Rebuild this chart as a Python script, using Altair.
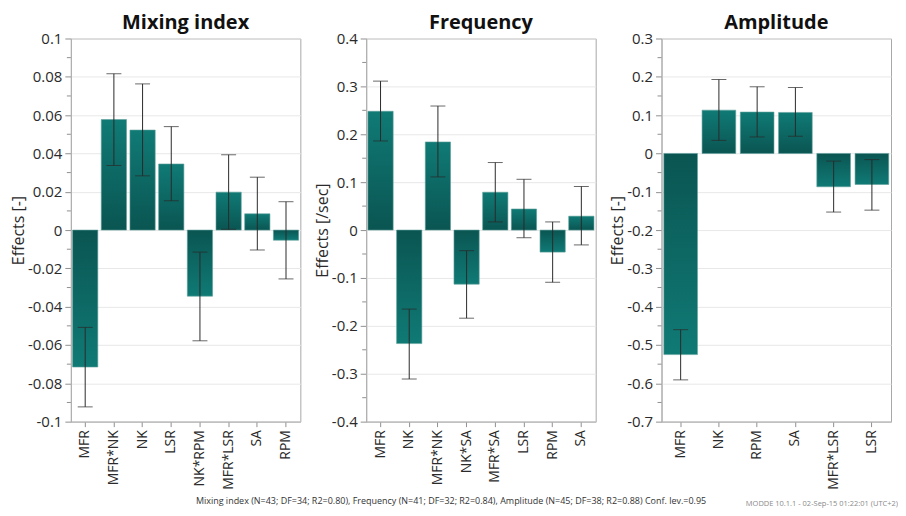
import altair as alt
import pandas as pd

FONT = "Open Sans"
LIGHT = "#107a75"
DARK = "#0a5552"
INK = "#2a2a2a"

# ---------------- data ----------------
mix_terms = ["MFR", "MFR*NK", "NK", "LSR", "NK*RPM", "MFR*LSR", "SA", "RPM"]
mix_eff = [-0.0715, 0.0577, 0.0522, 0.0345, -0.0345, 0.0198, 0.0085, -0.0053]
mix_lo = [-0.0923, 0.0337, 0.0283, 0.0153, -0.0578, 0.0004, -0.0104, -0.0255]
mix_hi = [-0.0508, 0.0816, 0.0763, 0.0540, -0.0115, 0.0393, 0.0276, 0.0148]
mix_major = [-0.1, -0.08, -0.06, -0.04, -0.02, 0, 0.02, 0.04, 0.06, 0.08, 0.1]
mix_minor = [-0.09, -0.07, -0.05, -0.03, -0.01, 0.01, 0.03, 0.05, 0.07, 0.09]

freq_terms = ["MFR", "NK", "MFR*NK", "NK*SA", "MFR*SA", "LSR", "RPM", "SA"]
freq_eff = [0.248, -0.237, 0.184, -0.113, 0.079, 0.044, -0.046, 0.029]
freq_lo = [0.186, -0.311, 0.111, -0.184, 0.017, -0.016, -0.109, -0.031]
freq_hi = [0.311, -0.165, 0.259, -0.043, 0.141, 0.106, 0.017, 0.091]
freq_major = [-0.4, -0.3, -0.2, -0.1, 0, 0.1, 0.2, 0.3, 0.4]
freq_minor = [-0.35, -0.25, -0.15, -0.05, 0.05, 0.15, 0.25, 0.35]

amp_terms = ["MFR", "NK", "RPM", "SA", "MFR*LSR", "LSR"]
amp_eff = [-0.525, 0.113, 0.108, 0.107, -0.087, -0.081]
amp_lo = [-0.591, 0.034, 0.043, 0.045, -0.153, -0.148]
amp_hi = [-0.460, 0.193, 0.174, 0.172, -0.020, -0.016]
amp_major = [-0.7, -0.6, -0.5, -0.4, -0.3, -0.2, -0.1, 0, 0.1, 0.2, 0.3]
amp_minor = [-0.65, -0.55, -0.45, -0.35, -0.25, -0.15, -0.05, 0.05, 0.15, 0.25]

footnote = ("Mixing index (N=43; DF=34; R2=0.80),  Frequency (N=41; DF=32; R2=0.84),  "
            "Amplitude (N=45; DF=38; R2=0.88)  Conf. lev.=0.95")
stamp = "MODDE 10.1.1 - 02-Sep-15 01:22:01 (UTC+2)"

W, H = 230, 384
FRAME = alt.ViewBackground(stroke="#a8a8a8", strokeWidth=1)


def grad(top, bottom):
    return alt.Gradient(
        gradient="linear",
        stops=[alt.GradientStop(color=top, offset=0), alt.GradientStop(color=bottom, offset=1)],
        x1=0, x2=0, y1=0, y2=1,
    )


LABEL_EXPR = "datum.value < 0 ? '-' + format(-datum.value, '~g') : format(datum.value, '~g')"


def panel(title, terms, eff, lo, hi, dom, major, minor, ytitle):
    df = pd.DataFrame({"term": terms, "eff": eff, "lo": lo, "hi": hi})
    xenc = alt.X(
        "term:N", sort=terms, title=None,
        scale=alt.Scale(paddingInner=0.12, paddingOuter=0.06),
        axis=alt.Axis(labelAngle=-90, labelFontSize=14, tickSize=5, labelPadding=3,
                      grid=False, labelColor=INK),
    )
    yscale = alt.Scale(domain=dom, nice=False, zero=False)
    yaxis = alt.Axis(values=major, labelExpr=LABEL_EXPR, title=ytitle, grid=True,
                     tickSize=6, labelPadding=3, titlePadding=1)

    def Y(field):
        return alt.Y(field, scale=yscale, axis=yaxis, title=ytitle)

    base = alt.Chart(df)
    pos = base.transform_filter("datum.eff >= 0").mark_bar(
        color=grad(LIGHT, DARK), stroke="#5e9f9b", strokeWidth=0.6
    ).encode(x=xenc, y=Y("eff:Q"), y2=alt.datum(0))
    neg = base.transform_filter("datum.eff < 0").mark_bar(
        color=grad(DARK, LIGHT), stroke="#5e9f9b", strokeWidth=0.6
    ).encode(x=xenc, y=Y("eff:Q"), y2=alt.datum(0))
    err = base.mark_rule(color=INK, strokeWidth=1).encode(x=xenc, y=Y("lo:Q"), y2="hi:Q")
    cap_lo = base.mark_tick(color=INK, thickness=1, size=15).encode(x=xenc, y=Y("lo:Q"))
    cap_hi = base.mark_tick(color=INK, thickness=1, size=15).encode(x=xenc, y=Y("hi:Q"))
    mdf = pd.DataFrame({"m": minor})
    minor_ticks = alt.Chart(mdf).mark_rule(color="#909090", strokeWidth=1).encode(
        y=Y("m:Q"), x=alt.value(-4), x2=alt.value(0)
    )
    return alt.layer(pos, neg, err, cap_lo, cap_hi, minor_ticks).properties(
        width=W, height=H, view=FRAME,
        title=alt.TitleParams(title, fontSize=20, fontWeight="bold", font=FONT,
                              anchor="middle", frame="group", offset=-1, color="#111"),
    )


p1 = panel("Mixing index", mix_terms, mix_eff, mix_lo, mix_hi, [-0.1, 0.1],
           mix_major, mix_minor, "Effects [-]")
p2 = panel("Frequency", freq_terms, freq_eff, freq_lo, freq_hi, [-0.4, 0.4],
           freq_major, freq_minor, "Effects [/sec]")
p3 = panel("Amplitude", amp_terms, amp_eff, amp_lo, amp_hi, [-0.7, 0.3],
           amp_major, amp_minor, "Effects [-]")

# footer coordinates are relative to the first panel's plot-area origin
foot = alt.Chart(pd.DataFrame({"t": [footnote]})).mark_text(
    fontSize=9, font=FONT, color="#333", align="center", baseline="middle"
).encode(text="t:N", x=alt.value(381), y=alt.value(11))
stamp_mark = alt.Chart(pd.DataFrame({"t": [stamp]})).mark_text(
    fontSize=7.5, font=FONT, color="#8a8a8a", align="right", baseline="middle"
).encode(text="t:N", x=alt.value(829), y=alt.value(14))
footer = alt.layer(foot, stamp_mark).properties(
    width=600, height=8, view=alt.ViewBackground(stroke=None)
)

chart = alt.vconcat(
    alt.hconcat(p1, p2, p3, spacing=12), footer, spacing=0
).properties(
    padding={"left": 2, "top": 3, "right": 0, "bottom": 0}
).configure_axis(
    labelFont=FONT, titleFont=FONT, labelFontSize=15, titleFontSize=16,
    titleFontWeight="normal", labelColor=INK, titleColor=INK,
    domainColor="#b0b0b0", tickColor="#909090", gridColor="#e8e8e8",
)

chart.save("out.html", embed_options={"renderer": "svg", "actions": False})
